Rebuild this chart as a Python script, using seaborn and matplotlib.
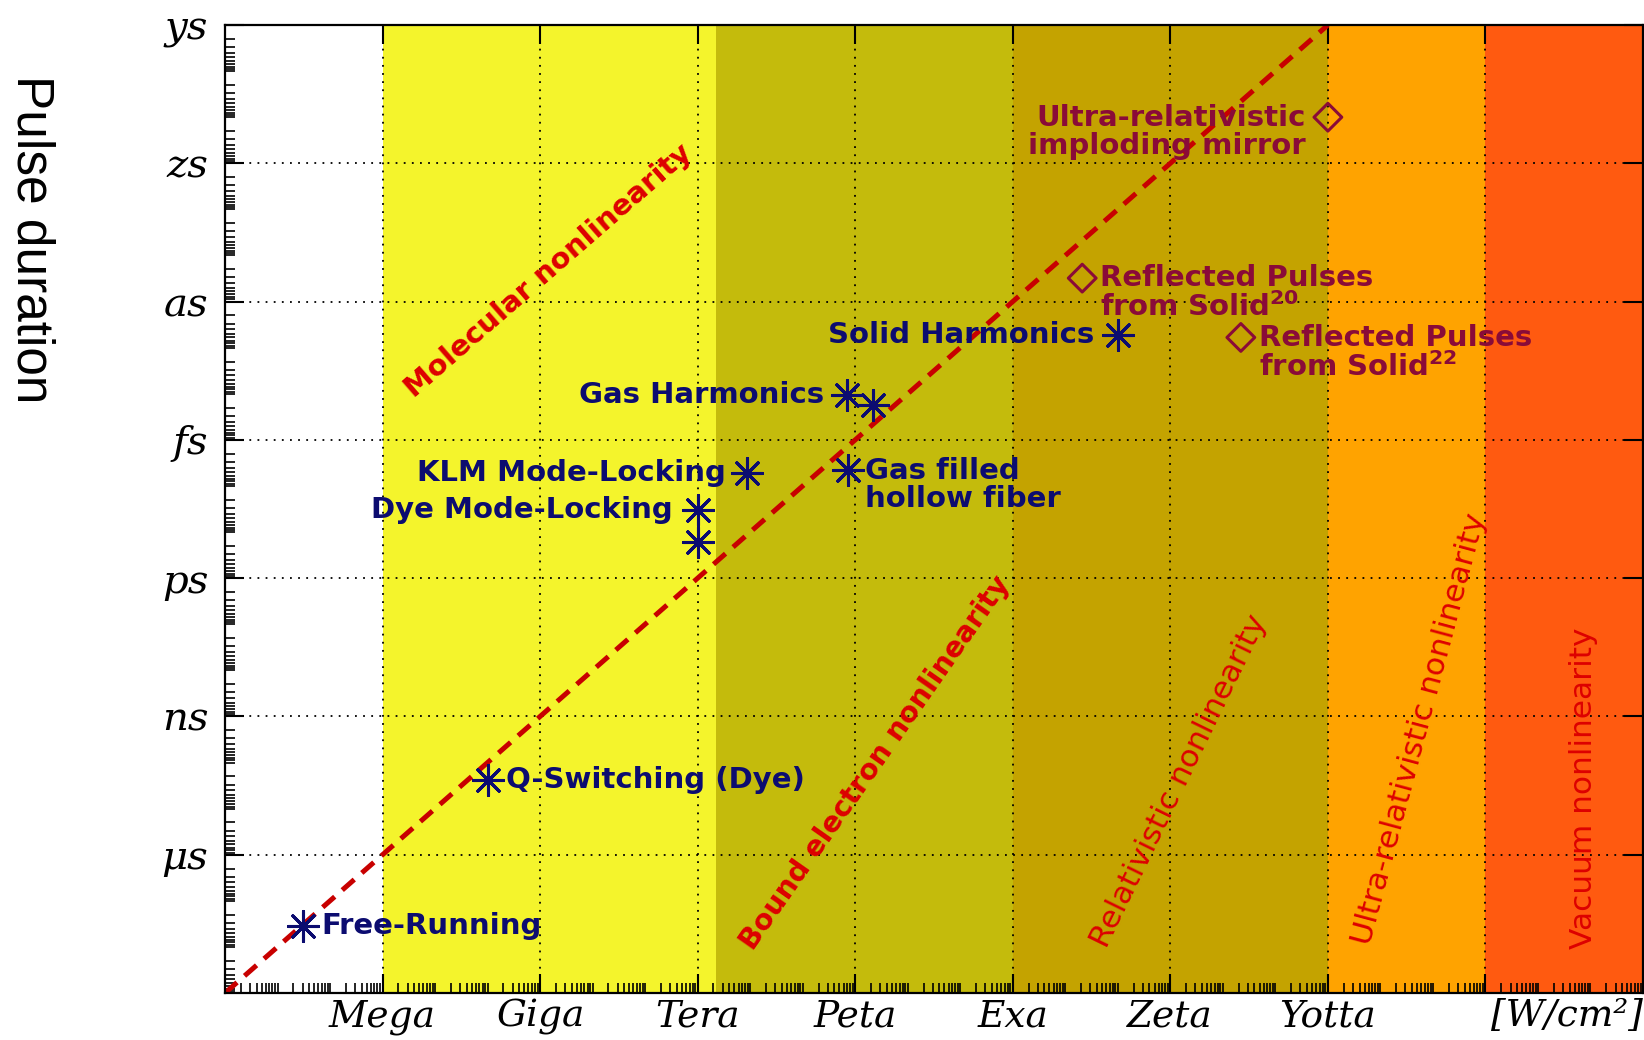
import numpy as np
import pandas as pd
import matplotlib
matplotlib.use("Agg")
import matplotlib.pyplot as plt
import seaborn as sns
from matplotlib.ticker import FixedLocator, LogLocator, NullFormatter

# intensity regimes [W/cm^2] and their background colours
band_edges = [1e3, 1e6, 2.2e12, 1e18, 1e24, 1e27, 1e30]
band_colors = ["#ffffff", "#f4f42c", "#c4bb0c", "#c4a300", "#ffa300", "#ff5a10"]

# intensity x duration = const guide
guide_intensity = [1e3, 1e24]
guide_duration = [1e-3, 1e-24]

# laser techniques (asterisks)
laser_names = ["Free-Running", "Q-Switching (Dye)", "Dye Mode-Locking", "",
               "KLM Mode-Locking", "Gas Harmonics", "", "Gas filled\nhollow fiber",
               "Solid Harmonics"]
laser_intensity = [3.1e4, 1e8, 1e12, 1e12, 8.7e12, 7.1e14, 2.2e15, 7.4e14, 1e20]
laser_duration = [3.5e-5, 2.4e-8, 3.3e-14, 1.66e-13, 5.2e-15, 1.07e-16, 1.78e-16,
                  4.5e-15, 5.2e-18]

# proposed schemes (open diamonds)
scheme_names = ["Ultra-relativistic\nimploding mirror",
                "Reflected Pulses\nfrom Solid$^{\\mathbf{20}}$",
                "Reflected Pulses\nfrom Solid$^{\\mathbf{22}}$"]
scheme_intensity = [1e24, 2.1e19, 2.2e22]
scheme_duration = [1e-22, 3.1e-19, 6.0e-18]

x_ticks = [1e6, 1e9, 1e12, 1e15, 1e18, 1e21, 1e24, 1e27]
x_ticklabels = ["Mega", "Giga", "Tera", "Peta", "Exa", "Zeta", "Yotta", ""]
y_ticks = [1e-24, 1e-21, 1e-18, 1e-15, 1e-12, 1e-9, 1e-6]
y_ticklabels = ["ys", "zs", "as", "fs", "ps", "ns", "μs"]

regime_names = ["Molecular nonlinearity", "Bound electron nonlinearity",
                "Relativistic nonlinearity", "Ultra-relativistic nonlinearity",
                "Vacuum nonlinearity"]

# label placement (offsets in points, alignment)
laser_text = {
    "Free-Running": (13, 0, "left"),
    "Q-Switching (Dye)": (13, 0, "left"),
    "Dye Mode-Locking": (-18, 0, "right"),
    "KLM Mode-Locking": (-15, 0, "right"),
    "Gas Harmonics": (-17, 0, "right"),
    "Gas filled\nhollow fiber": (12, -11, "left"),
    "Solid Harmonics": (-17, 0, "right"),
}
scheme_text = [(-16, -11, "right"), (13, -11, "left"), (13, -11, "left")]
# regime label centre (log10 I, log10 tau), rotation, weight, size
regime_layout = [(9.16, -18.67, 41, "bold", 21), (15.39, -8.0, 55, "bold", 20.5),
                 (21.16, -7.6, 64, "normal", 22.5), (25.74, -8.73, 75, "normal", 22.5),
                 (28.87, -7.44, 90, "normal", 22.5)]

navy = "#0c0c70"
wine = "#8a0b38"
red = "#dd0000"

fig = plt.figure(figsize=(16.44, 10.40), dpi=100)
ax = fig.add_axes([225 / 1644, 47 / 1040, 1418 / 1644, 968 / 1040])

for lo, hi, c in zip(band_edges[:-1], band_edges[1:], band_colors):
    ax.axvspan(lo, hi, color=c, lw=0, zorder=0)

ax.set_xscale("log")
ax.set_yscale("log")

sns.lineplot(x=guide_intensity, y=guide_duration, ax=ax, color="#c80000",
             lw=3.6, dashes=False, zorder=2)
ax.lines[-1].set_dashes((3.2, 2.0))

lasers = pd.DataFrame({"I": laser_intensity, "tau": laser_duration, "name": laser_names})
schemes = pd.DataFrame({"I": scheme_intensity, "tau": scheme_duration, "name": scheme_names})

sns.scatterplot(data=lasers, x="I", y="tau", ax=ax, marker=(8, 2, 0), s=470,
                color=navy, edgecolor=navy, linewidth=2.2, zorder=4, legend=False)
sns.scatterplot(data=schemes, x="I", y="tau", ax=ax, marker="D", s=200,
                facecolor="none", edgecolor=wine, linewidth=2.2, zorder=4, legend=False)

for _, r in lasers.iterrows():
    if not r["name"]:
        continue
    dx, dy, ha = laser_text[r["name"]]
    ax.annotate(r["name"], (r["I"], r["tau"]), xytext=(dx, dy), textcoords="offset points",
                ha=ha, va="center", color=navy, fontsize=21, fontweight="bold",
                family="DejaVu Sans", linespacing=1.0, zorder=5)

for (_, r), (dx, dy, ha) in zip(schemes.iterrows(), scheme_text):
    ax.annotate(r["name"], (r["I"], r["tau"]), xytext=(dx, dy), textcoords="offset points",
                ha=ha, va="center", color=wine, fontsize=21, fontweight="bold",
                family="DejaVu Sans", linespacing=1.0, multialignment=ha, zorder=5)

for name, (lx, ly, rot, w, fs) in zip(regime_names, regime_layout):
    ax.text(10 ** lx, 10 ** ly, name, rotation=rot, rotation_mode="anchor",
            ha="center", va="center", color=red, fontsize=fs, fontweight=w,
            family="DejaVu Sans", zorder=3)

ax.set_xlim(band_edges[0], band_edges[-1])
ax.set_ylim(1e-3, 1e-24)

ax.xaxis.set_major_locator(FixedLocator(x_ticks))
ax.yaxis.set_major_locator(FixedLocator(y_ticks))
ax.xaxis.set_minor_locator(LogLocator(base=10, subs=np.arange(1, 10), numticks=200))
ax.yaxis.set_minor_locator(LogLocator(base=10, subs=np.arange(1, 10), numticks=200))
ax.xaxis.set_minor_formatter(NullFormatter())
ax.yaxis.set_minor_formatter(NullFormatter())
ax.set_xticklabels(x_ticklabels, family="DejaVu Serif", style="italic", fontsize=27)
ax.set_yticklabels(y_ticklabels, family="DejaVu Serif", style="italic", fontsize=29)

ax.tick_params(which="major", direction="in", length=14, width=1.5,
               top=True, right=True, pad=4)
ax.tick_params(axis="y", which="major", pad=12)
ax.tick_params(which="minor", direction="in", length=7, width=1.2,
               top=False, right=False)

ax.grid(True, which="major", color="black", lw=1.3, ls=(0, (1, 3.5)))
ax.set_axisbelow("line")
for s in ax.spines.values():
    s.set_linewidth(1.6)
    s.set_zorder(6)

ax.set_xlabel("")
ax.set_ylabel("")
ax.text(1.0, -0.024, "[W/cm²]", transform=ax.transAxes, ha="right", va="center",
        family="DejaVu Serif", style="italic", fontsize=27)
fig.text(31 / 1644, 1 - 239 / 1040, "Pulse duration", rotation=270, ha="center",
         va="center", family="Liberation Sans", fontsize=37)

fig.savefig("out.png", dpi=100)
